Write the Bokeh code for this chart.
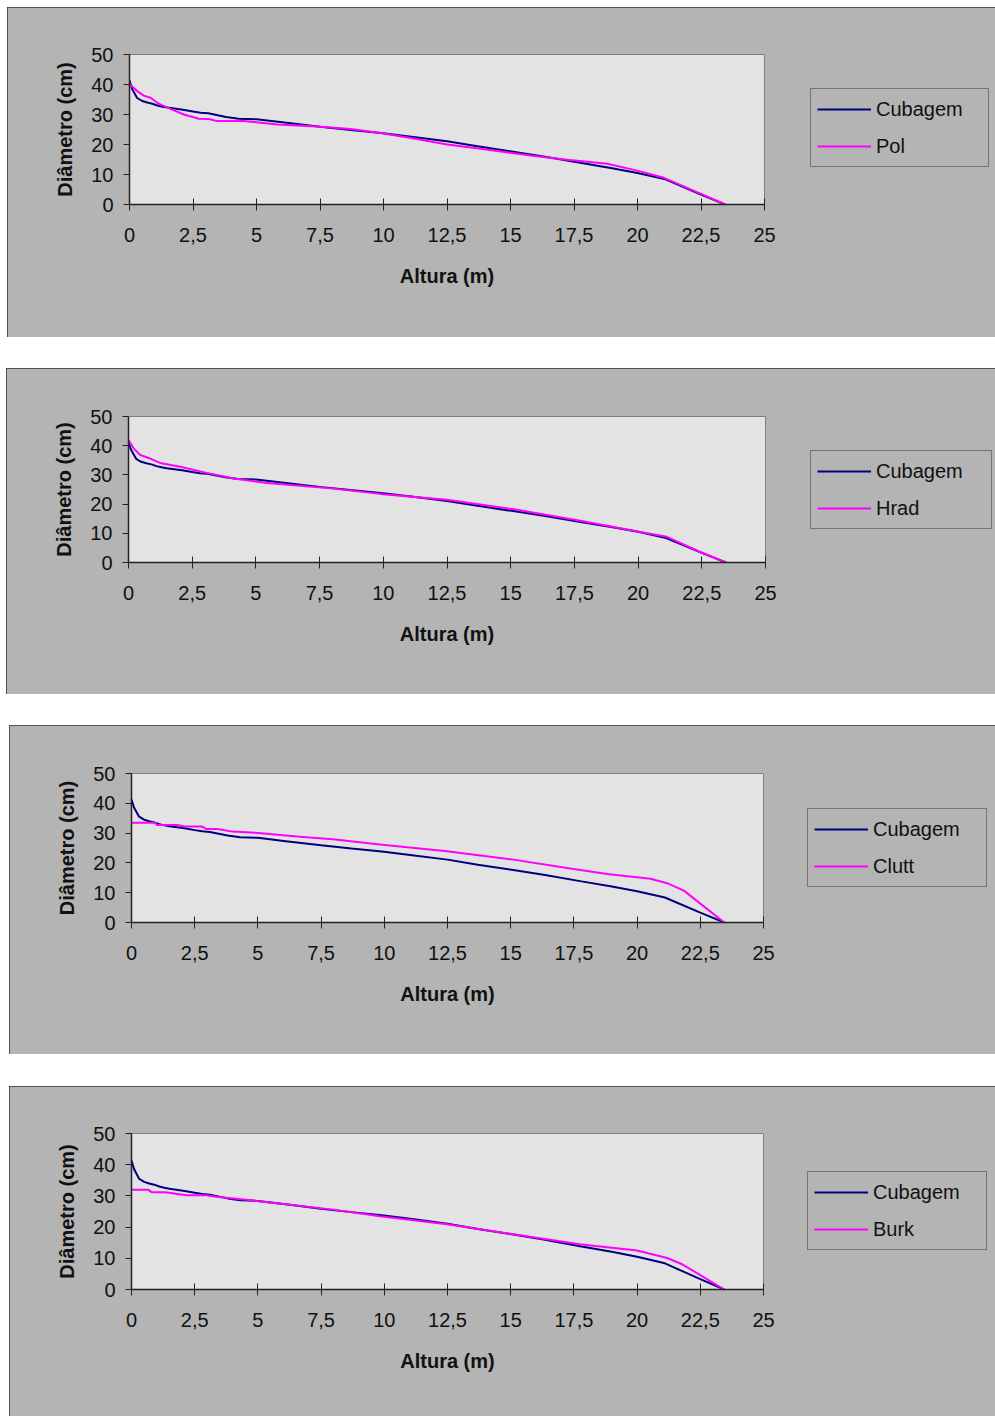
from bokeh.plotting import figure
from bokeh.models import Range1d, FixedTicker, Legend, LegendItem
from bokeh.layouts import column
from bokeh.embed import file_html
from bokeh.resources import INLINE

# ---------------- data ----------------
x_ticks = [0, 2.5, 5, 7.5, 10, 12.5, 15, 17.5, 20, 22.5, 25]
x_tick_labels = ["0", "2,5", "5", "7,5", "10", "12,5", "15", "17,5", "20", "22,5", "25"]
y_ticks = [0, 10, 20, 30, 40, 50]

cub_h = [0, 0.1, 0.3, 0.5, 0.7, 0.9, 1.1, 1.3, 1.5, 2.1, 2.5, 2.8, 3.1, 3.8, 4.3, 5.0,
         6.1, 7.5, 8.7, 9.9, 11.1, 12.5, 13.7, 15.1, 16.3, 17.8, 19.0, 20.0, 21.1, 22.5, 23.45]
cub_d = [41.3, 38.6, 35.5, 34.5, 34.0, 33.6, 33.0, 32.6, 32.3, 31.6, 31.0, 30.6, 30.4, 29.2, 28.6, 28.4,
         27.3, 25.9, 24.8, 23.8, 22.6, 21.1, 19.4, 17.6, 16.0, 13.8, 12.1, 10.5, 8.4, 3.3, 0.0]

pol_h = [0, 0.3, 0.56, 0.83, 1.15, 1.61, 2.14, 2.73, 3.12, 3.45, 4.5, 5.81, 7.39, 8.7, 9.88,
         11.2, 12.51, 13.82, 15.79, 17.23, 18.81, 19.99, 21.04, 22.48, 23.45]
pol_d = [40.2, 37.8, 36.3, 35.6, 33.6, 31.9, 30.0, 28.6, 28.5, 27.8, 27.8, 26.7, 26.0, 25.2, 23.8,
         22.0, 20.0, 18.6, 16.3, 14.9, 13.6, 11.3, 8.9, 3.6, 0.0]

hrad_h = [0, 0.2, 0.46, 0.85, 1.24, 2.03, 3.07, 4.12, 5.43, 8.05, 9.88, 12.5, 15.12, 17.73,
          20.35, 21.13, 22.44, 23.45]
hrad_d = [41.9, 39.1, 36.8, 35.6, 34.1, 32.8, 30.7, 28.8, 27.2, 25.3, 23.5, 21.5, 18.2, 14.3,
          10.0, 8.8, 3.6, 0.0]

clutt_h = [0, 0.95, 1.0, 1.8, 2.1, 2.8, 2.95, 3.4, 4.0, 4.9, 6.66, 7.97, 9.83, 12.48, 15.11,
           17.23, 18.81, 20.53, 21.19, 21.85, 23.45]
clutt_d = [33.5, 33.5, 32.7, 32.7, 32.2, 32.2, 31.4, 31.4, 30.5, 30.1, 28.8, 27.9, 26.2, 23.9, 21.1,
           18.3, 16.3, 14.7, 13.2, 10.7, 0.0]

burk_h = [0, 0.66, 0.79, 1.34, 2.17, 2.96, 3.36, 4.94, 7.97, 9.83, 12.48, 15.11, 17.73, 20.0,
          21.19, 21.8, 23.45]
burk_d = [32.0, 32.0, 31.2, 31.2, 30.2, 30.2, 29.7, 28.4, 25.6, 23.5, 20.9, 17.7, 14.5, 12.5,
          10.1, 8.0, 0.0]

ref_name = "Cubagem"
model_names = ["Pol", "Hrad", "Clutt", "Burk"]
model_h = [pol_h, hrad_h, clutt_h, burk_h]
model_d = [pol_d, hrad_d, clutt_d, burk_d]

x_label = "Altura (m)"
y_label = "Diâmetro (cm)"

# ---------------- layout (per panel) ----------------
layouts = [
    dict(mt=7,  ml=7, top=47, fh=150, bottom=133, left=122, fw=635, right=231, lx=46, ly=37, lw=106),
    dict(mt=31, ml=6, top=48, fh=146, bottom=132, left=122, fw=637, right=230, lx=45, ly=33, lw=109),
    dict(mt=31, ml=9, top=48, fh=149, bottom=132, left=122, fw=632, right=232, lx=44, ly=35, lw=107),
    dict(mt=32, ml=9, top=47, fh=156, bottom=127, left=122, fw=632, right=232, lx=44, ly=39, lw=107),
]

PANEL_BG = "#B4B4B4"
PLOT_BG = "#E3E3E3"
NAVY = "#000080"
MAGENTA = "#FF00FF"
FONT = "Liberation Sans"

figs = []
for name, mh, md, L in zip(model_names, model_h, model_d, layouts):
    p = figure(
        frame_width=L["fw"], frame_height=L["fh"],
        min_border_left=L["left"], min_border_right=L["right"],
        min_border_top=L["top"], min_border_bottom=L["bottom"],
        x_range=Range1d(0, 25), y_range=Range1d(0, 50),
        output_backend="svg", toolbar_location=None,
        background_fill_color=PLOT_BG, border_fill_color=PANEL_BG,
        outline_line_color="#808080", outline_line_width=1,
        margin=(L["mt"], 0, 0, L["ml"]),
    )
    p.styles = {"outline": "1px solid #333333", "outline-offset": "-1px"}
    p.xgrid.visible = False
    p.ygrid.visible = False

    r1 = p.line(cub_h, cub_d, line_color=NAVY, line_width=2)
    r2 = p.line(mh, md, line_color=MAGENTA, line_width=2)

    for ax in (p.xaxis[0], p.yaxis[0]):
        ax.axis_line_color = "#222222"
        ax.axis_line_width = 1.5
        ax.major_tick_line_color = "#222222"
        ax.major_tick_line_width = 1
        ax.minor_tick_line_color = None
        ax.major_label_text_font = FONT
        ax.major_label_text_font_size = "20px"
        ax.major_label_text_color = "#111111"
        ax.axis_label_text_font = FONT
        ax.axis_label_text_font_size = "20px"
        ax.axis_label_text_font_style = "bold"
        ax.axis_label_text_color = "#111111"

    p.xaxis.ticker = FixedTicker(ticks=x_ticks)
    p.xaxis.major_label_overrides = {t: s for t, s in zip(x_ticks, x_tick_labels)}
    p.xaxis.major_tick_in = 6
    p.xaxis.major_tick_out = 6
    p.xaxis.major_label_standoff = 17
    p.xaxis.axis_label = x_label
    p.xaxis.axis_label_standoff = 20

    p.yaxis.ticker = FixedTicker(ticks=y_ticks)
    p.yaxis.major_tick_in = 0
    p.yaxis.major_tick_out = 6
    p.yaxis.major_label_standoff = 10
    p.yaxis.axis_label = y_label
    p.yaxis.axis_label_standoff = 12

    legend = Legend(
        items=[LegendItem(label=ref_name, renderers=[r1]),
               LegendItem(label=name, renderers=[r2])],
        location=(L["lx"], L["ly"]),
        border_line_color="#333333", border_line_width=1,
        background_fill_alpha=0,
        padding=6, spacing=9, margin=23,
        glyph_width=54, glyph_height=28, label_height=28,
        label_standoff=5, label_width=L["lw"],
        label_text_font=FONT, label_text_font_size="20px", label_text_color="#111111",
    )
    p.add_layout(legend, "right")
    figs.append(p)

layout = column(*figs, spacing=0)
open("out.html", "w").write(file_html(layout, INLINE))
